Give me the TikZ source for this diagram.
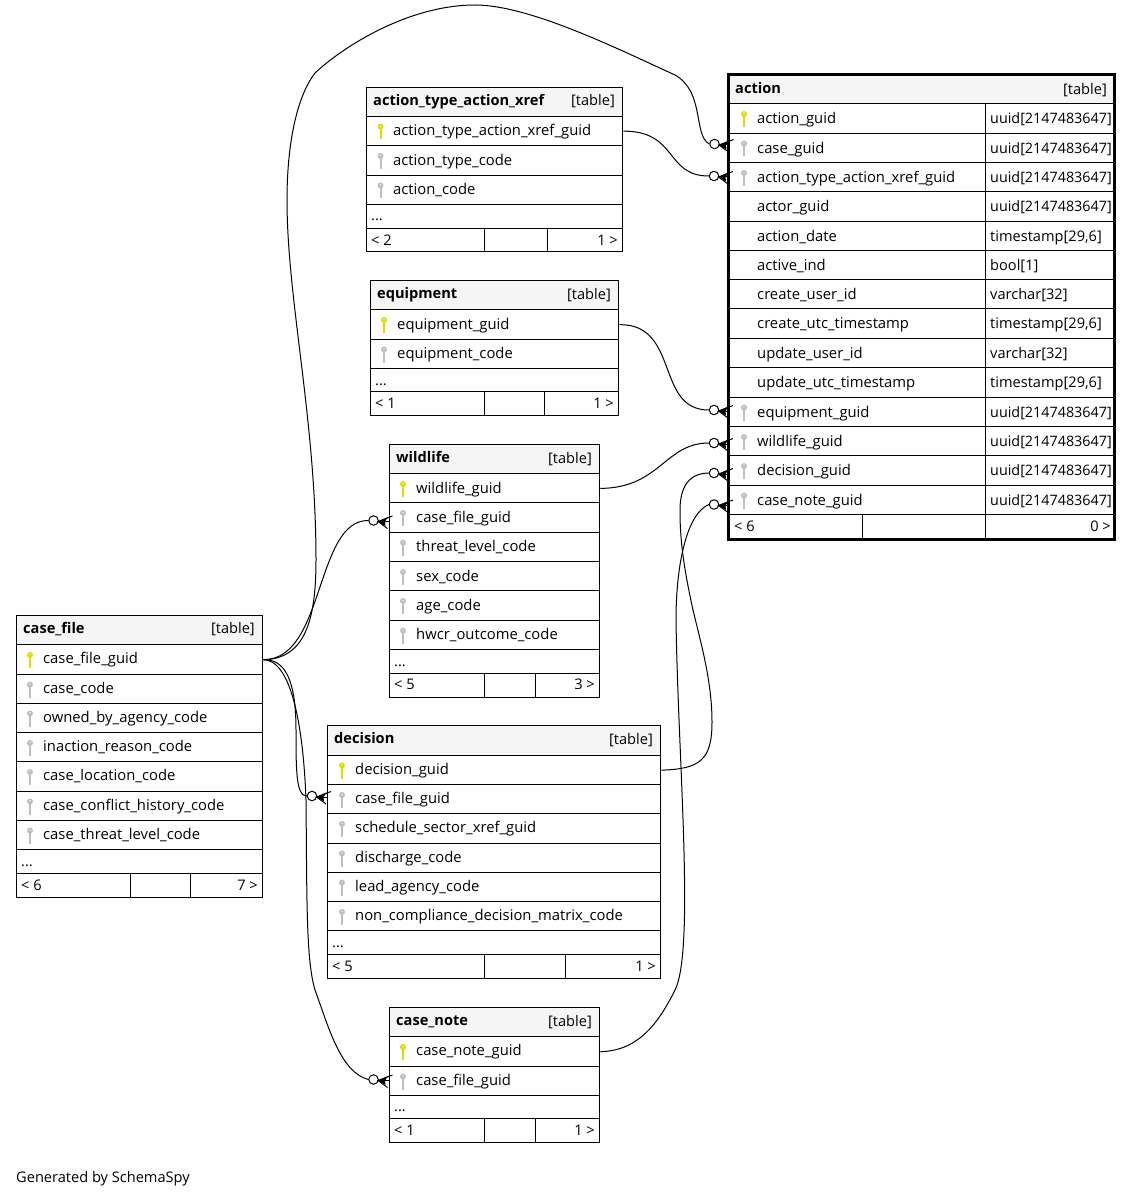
\documentclass[tikz,border=0pt]{standalone}
\usepackage{fontspec}
\setmainfont{Open Sans}
\usetikzlibrary{fit}
\definecolor{keyy}{RGB}{218,222,0}
\definecolor{keyg}{RGB}{190,190,190}
\definecolor{headbg}{RGB}{245,245,245}
\tikzset{
  cellbox/.style={draw=black,line width=1pt,inner sep=0pt},
  heavy/.style={draw=black,line width=3pt,inner sep=0pt},
  txt/.style={font=\fontsize{14.6}{16}\selectfont,inner sep=0pt,text=black},
  rowtxt/.style={font=\fontsize{14.8}{16}\selectfont,inner sep=0pt,text=black},
  boldtxt/.style={inner sep=0pt,text=black,font=\fontsize{14.6}{16}\selectfont\bfseries},
  link/.style={draw=black,line width=1pt},
  circ/.style={circle,draw=black,fill=white,line width=1pt,minimum size=9.5pt,inner sep=0pt},
  crowl/.style={draw=black,line width=1pt},
  crowf/.style={fill=black},
}
\newcommand\kx{13}\newcommand\tx{26}\newcommand\ry{18.5}\newcommand\hy{17.5}\newcommand\hk{18}
\newcommand\fl{4}\newcommand\fr{5}
\newcommand\uu{{\fontsize{14.35}{16}\selectfont uuid[2147483647]}}
% box: name x0 x1 y0 y1
\newcommand\tbox[5]{\node[cellbox,fit={({#2-.1},{#4-.1})({#3-.1},{#5-.1})}] (#1) {};}
% header: name x0 x1 y0 y1 title
\newcommand\thead[6]{%
  \node[cellbox,fill=headbg,fit={({#2-.1},{#4-.1})({#3-.1},{#5-.1})}] (#1) {};
  \node[boldtxt,anchor=base west] (#1-t) at ({#2+6},{#4+\hy}) {#6};
  \node[txt,anchor=base east] (#1-k) at ({#3-8},{#4+\hk}) {[table]};
}
% key: x y color
\newcommand\tkey[3]{%
  \fill[#3] (#1,#2) circle (3pt);
  \draw[#3,line width=2pt] (#1,#2) -- ({#1},{#2+13});
  \fill[white] (#1,{#2-0.6}) circle (.7pt);
}
% row: name x0 x1 y0 y1 color text
\newcommand\trow[7]{%
  \tbox{#1}{#2}{#3}{#4}{#5}
  \tkey{#2+\kx}{#4+10}{#6}
  \node[rowtxt,anchor=base west] (#1-t) at ({#2+\tx},{#4+\ry}) {#7};
}
% plain row (no key)
\newcommand\tplain[6]{%
  \tbox{#1}{#2}{#3}{#4}{#5}
  \node[rowtxt,anchor=base west] (#1-t) at ({#2+\tx},{#4+\ry}) {#6};
}
% type cell
\newcommand\ttype[4]{%
  \tbox{#1}{985.5}{1115}{#2}{#3}
  \node[txt,anchor=base west] (#1-t) at (990,{#2+\ry}) {#4};
}
% dots row
\newcommand\tdots[5]{%
  \tbox{#1}{#2}{#3}{#4}{#5}
  \node[txt,anchor=base west] (#1-t) at ({#2+4},{#4+16}) {...};
}
% footer: name x0 d1 d2 x1 y0 y1 l r
\newcommand\tfoot[9]{%
  \tbox{#1-a}{#2}{#3}{#6}{#7}
  \tbox{#1-b}{#3}{#4}{#6}{#7}
  \tbox{#1-c}{#4}{#5}{#6}{#7}
  \node[txt,anchor=base west] (#1-l) at ({#2+\fl},{#6+16}) {#8};
  \node[txt,anchor=base east] (#1-r) at ({#5-\fr},{#6+16}) {#9};
}
% crow foot next to a circle node
\newcommand\crow[1]{%
  \fill[crowf] ([shift={(4.5,1)}]#1.center) -- ([shift={(14.5,-3.5)}]#1.center) -- ([shift={(11.5,1)}]#1.center) -- ([shift={(12,5.5)}]#1.center) -- cycle;
  \draw[crowl] ([shift={(19,-4.5)}]#1.center) -- ([shift={(4.5,1)}]#1.center) -- ([shift={(14,8)}]#1.center);
  \draw[crowl] ([shift={(4.5,1)}]#1.center) -- ([shift={(15,1)}]#1.center);
}
\begin{document}
\begin{tikzpicture}[x=1pt,y=-1pt]
\useasboundingbox[fill=white] (0,0) rectangle (1133,1198);

% action_type_action_xref
\renewcommand\kx{13.5}\renewcommand\ry{19.5}
\thead{x}{367}{623}{88}{116.5}{action\_type\_action\_xref}
\trow{x1}{367}{623}{116.5}{146}{keyy}{action\_type\_action\_xref\_guid}
\trow{x2}{367}{623}{146}{175.5}{keyg}{action\_type\_code}
\trow{x3}{367}{623}{175.5}{205}{keyg}{action\_code}
\tdots{x4}{367}{623}{205}{229}
\tfoot{xf}{367}{485}{548}{623}{229}{252}{< 2}{1 >}

% equipment
\renewcommand\kx{13}\renewcommand\ry{19}
\thead{e}{371}{619}{281}{310}{equipment}
\trow{e1}{371}{619}{310}{339.5}{keyy}{equipment\_guid}
\trow{e2}{371}{619}{339.5}{369}{keyg}{equipment\_code}
\tdots{e3}{371}{619}{369}{392}
\tfoot{ef}{371}{485}{545}{619}{392}{416}{< 1}{1 >}

% wildlife
\renewcommand\ry{19.1}
\thead{w}{390}{600}{445}{474}{wildlife}
\trow{w1}{390}{600}{474}{503}{keyy}{wildlife\_guid}
\trow{w2}{390}{600}{503}{532.5}{keyg}{case\_file\_guid}
\trow{w3}{390}{600}{532.5}{562}{keyg}{threat\_level\_code}
\trow{w4}{390}{600}{562}{591}{keyg}{sex\_code}
\trow{w5}{390}{600}{591}{620.5}{keyg}{age\_code}
\trow{w6}{390}{600}{620.5}{650}{keyg}{hwcr\_outcome\_code}
\tdots{w7}{390}{600}{650}{673.5}
\tfoot{wf}{390}{485}{536}{600}{673.5}{698}{< 5}{3 >}

% case_file
\renewcommand\ry{18.5}
\thead{c}{17}{263}{615.5}{645}{case\_file}
\trow{c1}{17}{263}{645}{674.5}{keyy}{case\_file\_guid}
\trow{c2}{17}{263}{674.5}{703.5}{keyg}{case\_code}
\trow{c3}{17}{263}{703.5}{733}{keyg}{owned\_by\_agency\_code}
\trow{c4}{17}{263}{733}{762}{keyg}{inaction\_reason\_code}
\trow{c5}{17}{263}{762}{791.5}{keyg}{case\_location\_code}
\trow{c6}{17}{263}{791.5}{820.5}{keyg}{case\_conflict\_history\_code}
\trow{c7}{17}{263}{820.5}{850}{keyg}{case\_threat\_level\_code}
\tdots{c8}{17}{263}{850}{874}
\tfoot{cf}{17}{131}{191}{263}{874}{898}{< 6}{7 >}

% decision
\renewcommand\kx{14}\renewcommand\tx{27}\renewcommand\ry{18.8}
\thead{d}{328}{661}{726}{755.5}{decision}
\trow{d1}{328}{661}{755.5}{785}{keyy}{decision\_guid}
\trow{d2}{328}{661}{785}{814}{keyg}{case\_file\_guid}
\trow{d3}{328}{661}{814}{843.5}{keyg}{schedule\_sector\_xref\_guid}
\trow{d4}{328}{661}{843.5}{872.5}{keyg}{discharge\_code}
\trow{d5}{328}{661}{872.5}{902}{keyg}{lead\_agency\_code}
\trow{d6}{328}{661}{902}{931}{keyg}{non\_compliance\_decision\_matrix\_code}
\tdots{d7}{328}{661}{931}{955}
\tfoot{df}{328}{485}{566}{661}{955}{979}{< 5}{1 >}

% case_note
\renewcommand\kx{13}\renewcommand\tx{26}\renewcommand\ry{18.5}
\thead{n}{390}{600}{1008}{1037}{case\_note}
\trow{n1}{390}{600}{1037}{1066.5}{keyy}{case\_note\_guid}
\trow{n2}{390}{600}{1066.5}{1095.5}{keyg}{case\_file\_guid}
\tdots{n3}{390}{600}{1095.5}{1119}
\tfoot{nf}{390}{485}{536}{600}{1119}{1143}{< 1}{1 >}

% action
\renewcommand\kx{15}\renewcommand\tx{28}\renewcommand\ry{19.8}
\renewcommand\hy{18.5}\renewcommand\hk{19.5}\renewcommand\fl{5}\renewcommand\fr{4}
\thead{a}{729}{1115}{75}{104}{action}
\trow{a1}{729}{985.5}{104}{133.5}{keyy}{action\_guid}
\ttype{a1y}{104}{133.5}{\uu}
\trow{a2}{729}{985.5}{133.5}{163}{keyg}{case\_guid}
\ttype{a2y}{133.5}{163}{\uu}
\trow{a3}{729}{985.5}{163}{192}{keyg}{action\_type\_action\_xref\_guid}
\ttype{a3y}{163}{192}{\uu}
\tplain{a4}{729}{985.5}{192}{221.5}{actor\_guid}
\ttype{a4y}{192}{221.5}{\uu}
\tplain{a5}{729}{985.5}{221.5}{250.5}{action\_date}
\ttype{a5y}{221.5}{250.5}{timestamp[29,6]}
\tplain{a6}{729}{985.5}{250.5}{280}{active\_ind}
\ttype{a6y}{250.5}{280}{bool[1]}
\tplain{a7}{729}{985.5}{280}{309}{create\_user\_id}
\ttype{a7y}{280}{309}{varchar[32]}
\tplain{a8}{729}{985.5}{309}{338.5}{create\_utc\_timestamp}
\ttype{a8y}{309}{338.5}{timestamp[29,6]}
\tplain{a9}{729}{985.5}{338.5}{368}{update\_user\_id}
\ttype{a9y}{338.5}{368}{varchar[32]}
\tplain{a10}{729}{985.5}{368}{397.5}{update\_utc\_timestamp}
\ttype{a10y}{368}{397.5}{timestamp[29,6]}
\trow{a11}{729}{985.5}{397.5}{427}{keyg}{equipment\_guid}
\ttype{a11y}{397.5}{427}{\uu}
\trow{a12}{729}{985.5}{427}{456}{keyg}{wildlife\_guid}
\ttype{a12y}{427}{456}{\uu}
\trow{a13}{729}{985.5}{456}{485.5}{keyg}{decision\_guid}
\ttype{a13y}{456}{485.5}{\uu}
\trow{a14}{729}{985.5}{485.5}{515}{keyg}{case\_note\_guid}
\ttype{a14y}{485.5}{515}{\uu}
\tfoot{af}{729}{863}{985.5}{1115}{515}{540}{< 6}{0 >}
\node[heavy,fit={(728.9,74.9)(1114.9,539.9)}] (aout) {};

% connectors
\path
  node[circ] (k2) at (714.5,144) {}
  node[circ] (k3) at (714,176) {}
  node[circ] (k11) at (714,410) {}
  node[circ] (k12) at (714,443) {}
  node[circ] (k13) at (714,473) {}
  node[circ] (k14) at (714,504.5) {}
  node[circ] (kw) at (373.5,520.5) {}
  node[circ] (kd) at (312,796) {}
  node[circ] (kn) at (373.5,1079.5) {};

\draw[link] (c1.east) .. controls (305,659) and (316,620) .. (316,560)
  .. controls (316,420) and (287,300) .. (287,200)
  .. controls (287,140) and (298,95) .. (315,73)
  .. controls (345,45) and (410,5) .. (475,5)
  .. controls (530,5) and (620,50) .. (675,75)
  .. controls (705,92) and (693,135) .. (k2.west);
\draw[link] (x1.east) .. controls (678,131) and (665,176) .. (k3.west);
\draw[link] (e1.east) .. controls (680,324) and (655,410) .. (k11.west);
\draw[link] (w1.east) .. controls (660,488) and (665,443) .. (k12.west);
\draw[link] (d1.east) .. controls (700,769) and (712,760) .. (712,722)
  .. controls (712,680) and (700,640) .. (693,610)
  .. controls (682,560) and (680,535) .. (680,510)
  .. controls (680,480) and (695,473) .. (k13.west);
\draw[link] (n1.east) .. controls (640,1051) and (660,1020) .. (675,990)
  .. controls (695,950) and (678,760) .. (676,620)
  .. controls (676,570) and (685,515) .. (k14.west);
\draw[link] (c1.east) .. controls (325,660) and (315,520) .. (kw.west);
\draw[link] (c1.east) .. controls (285,659) and (296,680) .. (296,730)
  .. controls (296,770) and (296,796) .. (kd.west);
\draw[link] (c1.east) .. controls (290,660) and (303,720) .. (306,800)
  .. controls (307,900) and (306,960) .. (315,990)
  .. controls (328,1025) and (340,1072) .. (kn.west);

\crow{k2}\crow{k3}\crow{k11}\crow{k12}\crow{k13}\crow{k14}\crow{kw}\crow{kd}\crow{kn}

\node[txt,anchor=base west] (gen) at (16,1182.5) {Generated by SchemaSpy};
\end{tikzpicture}
\end{document}
